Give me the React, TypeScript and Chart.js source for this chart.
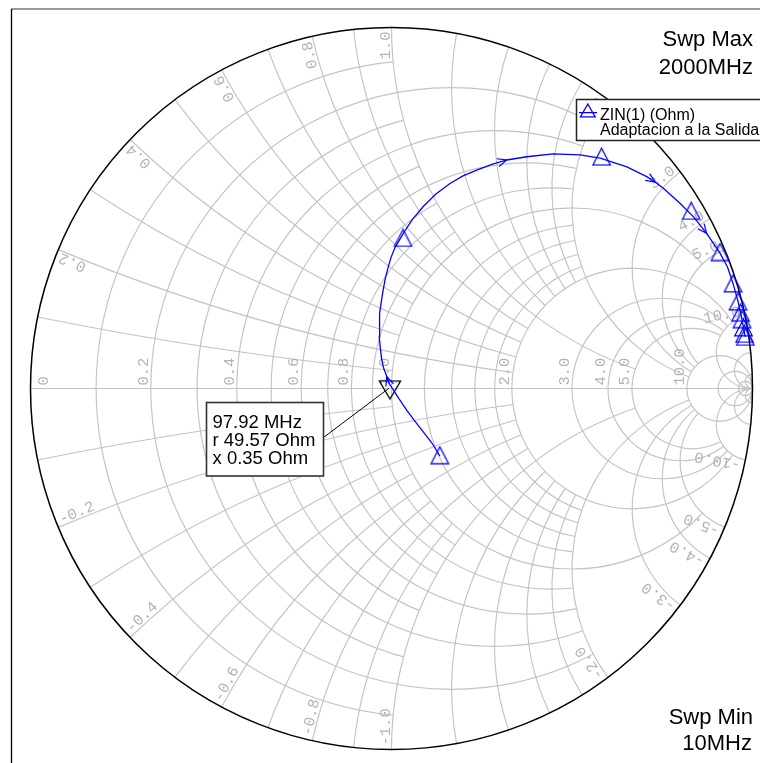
import React, { useEffect, useRef } from 'react';
import { Chart, registerables } from 'chart.js';

Chart.register(...registerables);

// ---------------- data ----------------
const Z0 = 50;
const sweepMinLabel = '10MHz';
const sweepMaxLabel = '2000MHz';
const legendName = 'ZIN(1) (Ohm)';
const legendSub = 'Adaptacion a la Salida';

// Smith grid: circle values and the extent (of the orthogonal family) up to which each is drawn
const gridValues = [0.1, 0.2, 0.3, 0.4, 0.5, 0.6, 0.7, 0.8, 0.9, 1.0, 1.2, 1.4, 1.6, 1.8, 2.0, 3.0, 4.0, 5.0, 10, 20, 50];
const gridLimits = [1, 2, 1, 2, 1, 2, 1, 2, 1, 5, 2, 2, 2, 2, 10, 10, 10, 10, Infinity, Infinity, Infinity];
const resistanceLabels = [0, 0.2, 0.4, 0.6, 0.8, 1.0, 2.0, 3.0, 4.0, 5.0, 10.0];
const reactanceLabels = [0.2, 0.4, 0.6, 0.8, 1.0, 2.0, 3.0, 4.0, 5.0, 10.0];

// ZIN(1) trace, reflection coefficient (real / imaginary), 10 MHz -> 2000 MHz
const traceRe = [0.134, 0.112, 0.088, 0.062, 0.042, 0.021, 0.005, -0.007, -0.013, -0.022, -0.027, -0.031, -0.034, -0.034, -0.032, -0.028, -0.023, -0.017, -0.009, -0.001, 0.010, 0.033, 0.057, 0.088, 0.123, 0.162, 0.198, 0.236, 0.276, 0.319, 0.375, 0.448, 0.522, 0.578, 0.652, 0.707, 0.730, 0.753, 0.799, 0.836, 0.873, 0.910, 0.931, 0.946, 0.960, 0.970, 0.978, 0.980];
const traceIm = [-0.187, -0.151, -0.120, -0.087, -0.060, -0.029, -0.004, 0.015, 0.033, 0.057, 0.079, 0.112, 0.143, 0.176, 0.208, 0.242, 0.273, 0.306, 0.337, 0.364, 0.391, 0.430, 0.467, 0.504, 0.539, 0.568, 0.589, 0.605, 0.620, 0.633, 0.642, 0.650, 0.647, 0.638, 0.614, 0.587, 0.572, 0.555, 0.513, 0.476, 0.430, 0.375, 0.336, 0.291, 0.241, 0.196, 0.152, 0.143];
const arrowIndices = [8, 29, 36, 40];

// trace symbols (triangles)
const symbolRe = [0.134, 0.032, 0.582, 0.830, 0.910, 0.946, 0.960, 0.967, 0.971, 0.975, 0.978, 0.980];
const symbolIm = [-0.185, 0.417, 0.642, 0.492, 0.378, 0.291, 0.241, 0.210, 0.192, 0.169, 0.151, 0.143];

// marker
const markerFreq = '97.92 MHz';
const markerR = 49.57;
const markerX = 0.35;

// ---------------- helpers ----------------
const W = 760;
const H = 763;
const CX = 391.5;
const CY = 388.5;
const RPX = 361;
const XMIN = -CX / RPX;
const XMAX = (W - CX) / RPX;
const YMAX = CY / RPX;
const YMIN = -(H - CY) / RPX;

const GRID = '#c3c3c3';
const LABEL = '#b3b3b3';
const BLUE = '#0000ff';

function gamma(r: number, x: number) {
  const d = (r + 1) * (r + 1) + x * x;
  return { re: (r * r - 1 + x * x) / d, im: (2 * x) / d };
}

function makeTri(color: string, cw: number, ch: number, pts: number[][], lw: number) {
  const c = document.createElement('canvas');
  c.width = cw;
  c.height = ch;
  const g = c.getContext('2d')!;
  g.strokeStyle = color;
  g.lineWidth = lw;
  g.beginPath();
  g.moveTo(pts[0][0], pts[0][1]);
  g.lineTo(pts[1][0], pts[1][1]);
  g.lineTo(pts[2][0], pts[2][1]);
  g.closePath();
  g.stroke();
  return c;
}

const smithPlugin = {
  id: 'smithGrid',
  beforeDatasetsDraw(chart: any) {
    const ctx: CanvasRenderingContext2D = chart.ctx;
    const xs = chart.scales.x;
    const ys = chart.scales.y;
    const px = (v: number) => xs.getPixelForValue(v);
    const py = (v: number) => ys.getPixelForValue(v);
    const s = px(1) - px(0);
    ctx.save();

    // frame
    ctx.strokeStyle = '#7a7a7a';
    ctx.lineWidth = 1.5;
    ctx.beginPath();
    ctx.moveTo(11, 9);
    ctx.lineTo(W, 9);
    ctx.stroke();
    ctx.strokeStyle = '#000';
    ctx.lineWidth = 1.3;
    ctx.beginPath();
    ctx.moveTo(11.5, 9);
    ctx.lineTo(11.5, H);
    ctx.stroke();

    ctx.strokeStyle = GRID;
    ctx.lineWidth = 1.15;
    // resistance circles
    gridValues.forEach((r, i) => {
      const L = gridLimits[i];
      const c = r / (1 + r);
      const rad = 1 / (1 + r);
      let t0 = 0;
      if (isFinite(L)) {
        const g = gamma(r, L);
        t0 = Math.atan2(g.im, g.re - c);
      }
      ctx.beginPath();
      ctx.arc(px(c), py(0), rad * s, t0, 2 * Math.PI - t0, false);
      ctx.stroke();
    });
    // reactance arcs
    gridValues.forEach((x, i) => {
      const R = gridLimits[i];
      const rad = 1 / x;
      const g0 = gamma(0, x);
      const a0 = Math.atan2(g0.im - rad, g0.re - 1);
      let a1 = -Math.PI / 2;
      if (isFinite(R)) {
        const g1 = gamma(R, x);
        a1 = Math.atan2(g1.im - rad, g1.re - 1);
      }
      while (a1 < a0) a1 += 2 * Math.PI;
      ctx.beginPath();
      ctx.arc(px(1), py(rad), rad * s, -a0, -a1, true);
      ctx.stroke();
      ctx.beginPath();
      ctx.arc(px(1), py(-rad), rad * s, a0, a1, false);
      ctx.stroke();
    });
    // real axis
    ctx.beginPath();
    ctx.moveTo(px(-1), py(0));
    ctx.lineTo(px(1), py(0));
    ctx.stroke();

    // labels
    ctx.fillStyle = LABEL;
    ctx.font = '15.5px "Liberation Mono", "DejaVu Sans Mono", monospace';
    ctx.textBaseline = 'alphabetic';
    resistanceLabels.forEach((r) => {
      const gx = (r - 1) / (r + 1);
      const X = r === 0 ? px(gx) + 19 : px(gx) - 1;
      ctx.save();
      ctx.translate(X, py(0) - 3);
      ctx.rotate(-Math.PI / 2);
      ctx.textAlign = 'left';
      ctx.fillText(r === 0 ? '0' : r.toFixed(1), 0, -2);
      ctx.restore();
    });
    reactanceLabels.forEach((v) => {
      [1, -1].forEach((sg) => {
        const g = gamma(0, sg * v);
        const phi = Math.atan2(g.im, g.re);
        const ux = Math.cos(phi);
        const uy = -Math.sin(phi);
        let psi = Math.atan2(uy, ux);
        if (psi > 0) psi -= Math.PI;
        const upper = Math.sin(phi) > 0;
        const inset = 4;
        const Px = px(Math.cos(phi)) - inset * ux;
        const Py = py(Math.sin(phi)) - inset * uy;
        ctx.save();
        ctx.translate(Px, Py);
        ctx.rotate(psi);
        ctx.textAlign = upper ? 'right' : 'left';
        ctx.fillText((sg < 0 ? '-' : '') + v.toFixed(1), 0, -2);
        ctx.restore();
      });
    });

    // outer circle
    ctx.strokeStyle = '#000';
    ctx.lineWidth = 1.5;
    ctx.beginPath();
    ctx.arc(px(0), py(0), s, 0, 2 * Math.PI);
    ctx.stroke();
    ctx.restore();
  },
  afterDatasetsDraw(chart: any) {
    const ctx: CanvasRenderingContext2D = chart.ctx;
    const xs = chart.scales.x;
    const ys = chart.scales.y;
    const px = (v: number) => xs.getPixelForValue(v);
    const py = (v: number) => ys.getPixelForValue(v);
    ctx.save();

    // direction arrows on the trace
    ctx.strokeStyle = BLUE;
    ctx.lineWidth = 1.2;
    arrowIndices.forEach((i) => {
      const tx = px(traceRe[i]);
      const ty = py(traceIm[i]);
      const bx = px(traceRe[i - 1]);
      const by = py(traceIm[i - 1]);
      let dx = tx - bx;
      let dy = ty - by;
      const l = Math.hypot(dx, dy) || 1;
      dx /= l;
      dy /= l;
      const a = (24 * Math.PI) / 180;
      const len = 10;
      ctx.beginPath();
      ctx.moveTo(tx - len * (dx * Math.cos(a) - dy * Math.sin(a)), ty - len * (dx * Math.sin(a) + dy * Math.cos(a)));
      ctx.lineTo(tx, ty);
      ctx.lineTo(tx - len * (dx * Math.cos(-a) - dy * Math.sin(-a)), ty - len * (dx * Math.sin(-a) + dy * Math.cos(-a)));
      ctx.stroke();
    });

    // marker label
    const zr = markerR / Z0;
    const zx = markerX / Z0;
    const gm = gamma(zr, zx);
    const mx = px(gm.re);
    const my = py(gm.im);
    ctx.strokeStyle = '#000';
    ctx.lineWidth = 1;
    ctx.beginPath();
    ctx.moveTo(323.5, 437.5);
    ctx.lineTo(mx - 1, my + 1);
    ctx.stroke();
    ctx.fillStyle = '#fff';
    ctx.fillRect(206.5, 402.5, 117, 73.5);
    ctx.strokeStyle = '#333';
    ctx.lineWidth = 1.6;
    ctx.strokeRect(206.5, 402.5, 117, 73.5);
    ctx.fillStyle = '#000';
    ctx.font = '18.5px "Liberation Sans", Arial, sans-serif';
    ctx.textAlign = 'left';
    ctx.textBaseline = 'alphabetic';
    ctx.fillText(markerFreq, 212.5, 427.5);
    ctx.fillText('r ' + markerR.toFixed(2) + ' Ohm', 212.5, 445.5);
    ctx.fillText('x ' + markerX.toFixed(2) + ' Ohm', 212.5, 463.5);

    // legend
    ctx.fillStyle = '#fff';
    ctx.fillRect(576.5, 99.5, 200, 41);
    ctx.strokeStyle = '#222';
    ctx.lineWidth = 1.5;
    ctx.strokeRect(576.5, 99.5, 200, 41);
    ctx.strokeStyle = BLUE;
    ctx.lineWidth = 1.3;
    ctx.beginPath();
    ctx.moveTo(579, 112.7);
    ctx.lineTo(597, 112.7);
    ctx.moveTo(587.8, 104);
    ctx.lineTo(595.2, 116.8);
    ctx.lineTo(580.4, 116.8);
    ctx.closePath();
    ctx.stroke();
    ctx.fillStyle = '#000';
    ctx.font = '16px "Liberation Sans", Arial, sans-serif';
    ctx.fillText(legendName, 600, 119.5);
    ctx.fillText(legendSub, 600, 134.5);

    // sweep labels
    ctx.font = '22px "Liberation Sans", Arial, sans-serif';
    ctx.textAlign = 'right';
    ctx.fillText('Swp Max', 753, 46);
    ctx.fillText(sweepMaxLabel, 753, 73.5);
    ctx.fillText('Swp Min', 753, 723.5);
    ctx.fillText(sweepMinLabel, 752, 750);
    ctx.restore();
  },
};

export default function App() {
  const ref = useRef<HTMLCanvasElement | null>(null);
  useEffect(() => {
    if (!ref.current) return;
    const blueTri = makeTri(BLUE, 21, 19, [[10.5, 1], [19.2, 17.8], [1.8, 17.8]], 1.3);
    const blackTri = makeTri('#000', 24, 28, [[1.4, 7.8], [22.6, 7.8], [12, 25.8]], 1.3);
    const zr = markerR / Z0;
    const zx = markerX / Z0;
    const gm = gamma(zr, zx);
    const chart = new Chart(ref.current, {
      type: 'scatter',
      data: {
        datasets: [
          {
            label: legendName,
            data: traceRe.map((re, i) => ({ x: re, y: traceIm[i] })),
            showLine: true,
            borderColor: BLUE,
            borderWidth: 1.3,
            pointRadius: 0,
            tension: 0,
            fill: false,
          } as any,
          {
            label: 'symbols',
            data: symbolRe.map((re, i) => ({ x: re, y: symbolIm[i] })),
            showLine: false,
            pointStyle: blueTri,
            pointRadius: 10,
            borderColor: BLUE,
            backgroundColor: 'rgba(0,0,0,0)',
          } as any,
          {
            label: 'marker',
            data: [{ x: gm.re, y: gm.im }],
            showLine: false,
            pointStyle: blackTri,
            pointRadius: 10,
            borderColor: '#000',
            backgroundColor: 'rgba(0,0,0,0)',
          } as any,
        ],
      },
      options: {
        responsive: false,
        animation: false,
        devicePixelRatio: 1,
        events: [],
        layout: { padding: 0, autoPadding: false },
        plugins: {
          legend: { display: false },
          tooltip: { enabled: false },
          title: { display: false },
        },
        scales: {
          x: { type: 'linear', min: XMIN, max: XMAX, display: false },
          y: { type: 'linear', min: YMIN, max: YMAX, display: false },
        },
      } as any,
      plugins: [smithPlugin],
    });
    return () => chart.destroy();
  }, []);
  return (
    <div style={{ position: 'fixed', left: 0, top: 0, width: W, height: H, background: '#fff' }}>
      <canvas ref={ref} width={W} height={H} style={{ display: 'block', width: W, height: H }} />
    </div>
  );
}
